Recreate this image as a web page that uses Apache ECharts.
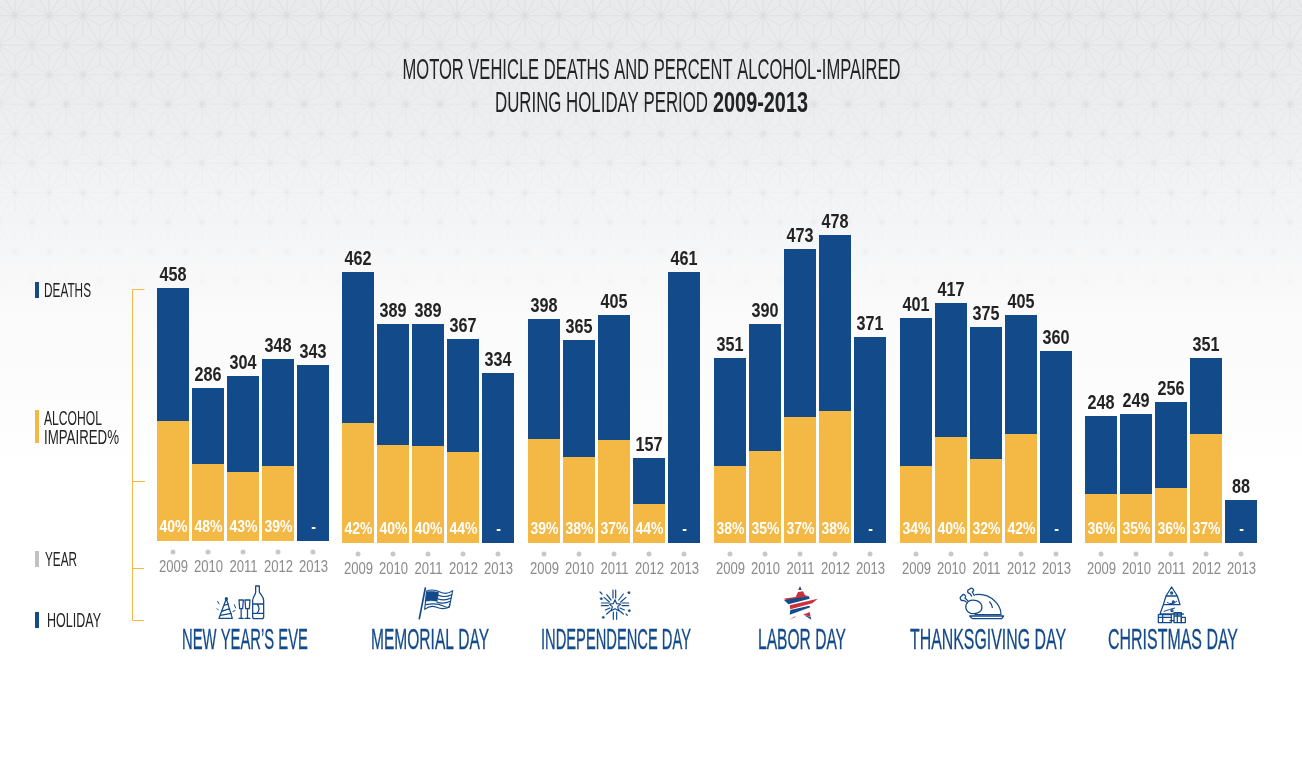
<!DOCTYPE html>
<html><head><meta charset="utf-8">
<style>
html,body{margin:0;padding:0;width:1302px;height:772px;overflow:hidden}
body{background-color:#fff;position:relative}
#bg{position:absolute;inset:0}
#c{position:absolute;left:0;top:0;width:1302px;height:772px}
</style>
<script src="https://cdn.jsdelivr.net/npm/echarts@6/dist/echarts.min.js"></script>
</head><body>
<canvas id="bg" width="1302" height="772"></canvas>
<div id="c"></div>
<script>
// ---- data ----
const years = ['2009','2010','2011','2012','2013'];
const holidays = ["NEW YEAR’S EVE",'MEMORIAL DAY','INDEPENDENCE DAY','LABOR DAY','THANKSGIVING DAY','CHRISTMAS DAY'];

// printed death counts
const deathsNewYear      = [458,286,304,348,343];
const deathsMemorial     = [462,389,389,367,334];
const deathsIndependence = [398,365,405,157,461];
const deathsLabor        = [351,390,473,478,371];
const deathsThanksgiving = [401,417,375,405,360];
const deathsChristmas    = [248,249,256,351,88];

// printed alcohol-impaired labels
const pctNewYear      = ['40%','48%','43%','39%','-'];
const pctMemorial     = ['42%','40%','40%','44%','-'];
const pctIndependence = ['39%','38%','37%','44%','-'];
const pctLabor        = ['38%','35%','37%','38%','-'];
const pctThanksgiving = ['34%','40%','32%','42%','-'];
const pctChristmas    = ['36%','35%','36%','37%','-'];

// The source bars are not linear in the printed numbers, so the drawn bar
// lengths are read separately, in units of the shared value axis.
const barNewYear      = [253,153,165,182,176];
const barMemorial     = [271,219,219,204,170];
const barIndependence = [224,203,228,85,271];
const barLabor        = [185,219,294,308,206];
const barThanksgiving = [225,240,216,228,192];
const barChristmas    = [127,129,141,185,43];

const impNewYear      = [120,77,69,75,0];
const impMemorial     = [120,98,97,91,0];
const impIndependence = [104,86,103,39,0];
const impLabor        = [77,92,126,132,0];
const impThanksgiving = [77,106,84,109,0];
const impChristmas    = [49,49,55,109,0];

const deaths = [deathsNewYear,deathsMemorial,deathsIndependence,deathsLabor,deathsThanksgiving,deathsChristmas];
const pcts   = [pctNewYear,pctMemorial,pctIndependence,pctLabor,pctThanksgiving,pctChristmas];
const bars   = [barNewYear,barMemorial,barIndependence,barLabor,barThanksgiving,barChristmas];
const imps   = [impNewYear,impMemorial,impIndependence,impLabor,impThanksgiving,impChristmas];

// ---- layout / style ----
const BLUE='#134a8a', GOLD='#f4b845', DARK='#232323', GREY='#8b8b8b', DOT='#c8c8c8', RED='#c9303a';
const FONT='"Liberation Sans",sans-serif';
const gridLefts=[155.5,340.5,526.5,712.5,898.5,1083.5];
const baselines=[541,543,543,543,543,543];
const nameCx=[245,430,616,802,988,1173];
const nameW=[126,118,150,88,156,130];
const AXMAX=343;

// background: soft gradient and star lattice, fading to white
(function(){
  const cv=document.getElementById('bg'),x=cv.getContext('2d');
  const g=x.createLinearGradient(0,0,0,772);
  g.addColorStop(0,'#e9eaec');g.addColorStop(.13,'#ecedef');g.addColorStop(.26,'#f3f4f5');
  g.addColorStop(.4,'#fafafb');g.addColorStop(.62,'#ffffff');g.addColorStop(1,'#ffffff');
  x.fillStyle=g;x.fillRect(0,0,1302,772);
  const a=34,h=29.5,ox=15,oy=15.7;
  const fade=y=>{const t=Math.max(0,1-y/300);return t*t*0.4+t*0.6;};
  for(let r=-1;r<16;r++){for(let c=-1;c<41;c++){
    const px=ox+c*a+(r%2?a/2:0), py=oy+r*h;
    const al=fade(py);if(al<=0)continue;
    x.strokeStyle='rgba(205,207,211,'+(0.38*al)+')';x.lineWidth=1;
    x.beginPath();
    [[a,0],[a/2,h],[-a/2,h]].forEach(d=>{x.moveTo(px,py);x.lineTo(px+d[0],py+d[1]);});
    [[a/2,h/3],[a/2,-h/3],[0,2*h/3],[0,-2*h/3],[-a/2,h/3],[-a/2,-h/3]].forEach(d=>{x.moveTo(px,py);x.lineTo(px+d[0],py+d[1]);});
    x.stroke();
    x.beginPath();x.arc(px,py,3.8,0,7);x.fillStyle='rgba(222,224,227,'+(0.55*al)+')';x.fill();
  }}
})();

// text fitted to a measured width with horizontal scale
const mc=document.createElement('canvas').getContext('2d');
function txt(s,cx,cy,w,size,color,weight,extra){
  mc.font=(weight||'normal')+' '+size+'px '+FONT;
  const sx=w/mc.measureText(s).width;
  return {type:'text',x:cx,y:cy,scaleX:sx,silent:true,z:20,
    style:Object.assign({text:s,fill:color,font:(weight||'normal')+' '+size+'px '+FONT,align:'center',verticalAlign:'middle'},extra||{})};
}
function rect(x,y,w,h,fill){return {type:'rect',silent:true,z:10,shape:{x,y,width:w,height:h},style:{fill}};}

const graphics=[];
// title
graphics.push(txt('MOTOR VEHICLE DEATHS AND PERCENT ALCOHOL-IMPAIRED',651.5,71,498,29,DARK));
graphics.push(txt('DURING HOLIDAY PERIOD',601.5,104,213,29,DARK));
graphics.push(txt('2009-2013',760.5,104,95,29,DARK,'bold'));
// left key
graphics.push(rect(35,282,4,16,BLUE),rect(35,410,4,33,GOLD),rect(35,551,4,16,'#c2c2c2'),rect(35,612,4,16,BLUE));
graphics.push(txt('DEATHS',67.5,291,47,20,DARK));
graphics.push(txt('ALCOHOL',73,419,58,20,DARK));
graphics.push(txt('IMPAIRED%',81.5,438,75,20,DARK));
graphics.push(txt('YEAR',61,560,32,20,DARK));
graphics.push(txt('HOLIDAY',74,621,54,20,DARK));
// holiday names
holidays.forEach((n,i)=>graphics.push(txt(n,nameCx[i],641,nameW[i],29,BLUE,'normal',{stroke:BLUE,lineWidth:0.3})));

// icons and bracket: outline shapes registered with the library
let shapeN=0;
function pathEl(d,opt){
  const name='rsPath'+(shapeN++);
  echarts.graphic.registerShape(name,echarts.graphic.extendPath(d,{}));
  return Object.assign({type:name,silent:true,z:10},opt);
}
graphics.push(pathEl('M144.5 289.5H132.5V620.5H144M132.5 481.5H145M132.5 568.5H144',{style:{fill:'none',stroke:GOLD,lineWidth:1}}));
function icon(x,y,parts){
  parts.forEach(p=>graphics.push(pathEl(p.d,{x,y,scaleX:1/3,scaleY:1/3,
    style:{fill:p.fill||'none',stroke:p.stroke===undefined?BLUE:p.stroke,lineWidth:p.lw||3.8,lineJoin:'round',lineCap:'round'}})));
}
function circ(cx,cy,r){return `M${cx-r} ${cy}a${r} ${r} 0 1 0 ${2*r} 0a${r} ${r} 0 1 0 ${-2*r} 0Z`;}
// party hat, flutes, bottle
icon(205,578,[
 {d:'M42 121L64 62L82 121ZM50 100L74 92M46 112L79 106M57 82L70 78'},
 {d:circ(64,62,3)},
 {d:'M38 70L42 78M36 92L40 96M88 80L92 90M84 100L90 98',lw:3},
 {d:'M102 66H115L113 92H104ZM108.500 92V120M102 121H115'},
 {d:'M120 66H135L133 92H122ZM127.500 92V120M120 121H135'},
 {d:'M152 24H163V42C168 52 176 56 176 68V116Q176 122 170 122H148Q143 122 143 116V68C143 56 152 52 152 42ZM143 78H176M143 106H176M156 78Q168 92 156 106'}
]);
// flag
icon(410,582,[
 {d:'M46 18L28 110',lw:5},
 {d:'M50 27Q70 20 90 30T128 26L118 76Q98 84 80 76T44 82Z',lw:3.4},
 {d:'M84 40Q105 48 125 38M82 50Q105 58 123 48M80 60Q100 68 121 58M48 68Q80 62 100 72T119 66',lw:3.4},
 {d:'M51 29Q65 25 86 31L82 58Q62 54 46 58Z',fill:BLUE,lw:1}
]);
// fireworks
icon(590,582,[
 {d:'M75 53L80 65L92 66L83 74L86 86L75 80L64 86L67 74L58 66L70 65Z',lw:3.4},
 {d:'M69 24V48M77 24V48M50 38L63 54M42 46L58 60M100 36L86 54M108 46L92 60M34 63H55M34 71H55M96 63H116M96 71H116M46 84L60 78M50 96L64 84M103 84L90 78M100 96L86 84M70 90V112M80 90V112M30 30L36 36M112 100L108 96',lw:3.6},
 {d:circ(34,50,3.5)+circ(117,32,3.5)+circ(118,86,3.5)+circ(40,106,3.5),fill:BLUE,lw:1}
]);
// star
icon(775,582,[
 {d:'M75 12L70 24L80 24Z',fill:BLUE,stroke:null},
 {d:'M25 50L62 45L69 30L84 28L90 40L102 43L40 56Z',fill:RED,stroke:null},
 {d:'M27 54L102 43L104 50L40 67Z',fill:BLUE,stroke:null},
 {d:'M128 50L112 64L46 82L44 70Z',fill:RED,stroke:null},
 {d:'M46 84L103 71L106 76L44 98Z',fill:BLUE,stroke:null},
 {d:'M84 98L104 90L107 104Z',fill:RED,stroke:null},
 {d:'M88 100L107 105L109 113Z',fill:BLUE,stroke:null},
 {d:'M41 114L62 102L60 106Z',fill:RED,stroke:null}
]);
// turkey
icon(955,582,[
 {d:'M62 38C85 34 110 44 124 62C134 74 138 86 138 98H60'},
 {d:'M40 58C28 70 30 88 48 94C68 98 84 88 80 70C76 56 55 50 40 58Z'},
 {d:'M38 56L30 48A6 6 0 1 0 20 42A6 6 0 1 0 26 55L34 60M58 40L52 30A6 6 0 1 0 44 22A6 6 0 1 0 44 34L50 42'},
 {d:'M104 60Q110 66 112 76M44 102H146L140 110H52Z'}
]);
// tree with presents
icon(1150,582,[
 {d:'M65 15L82 42H48ZM48 42L40 68H90L82 42M40 68L30 96H100'},
 {d:circ(65,33,3)+circ(70,60,3)+circ(66,86,3)},
 {d:'M52 62Q66 70 80 58M42 88Q60 82 74 78',lw:3},
 {d:'M25 98H64V122H25ZM25 106H64M38 98V122'},
 {d:'M72 92H94V122H72ZM82 92V122M72 102H94'},
 {d:'M94 106H106V122H94ZM60 116H72'}
]);

// ---- charts ----
function condensed(size,weight,color,sx){return {scaleX:sx,silent:true,
  style:{fill:color,font:weight+' '+size+'px '+FONT,align:'center',verticalAlign:'middle'}};}
function textMark(text,x,y,c){return {type:'text',x,y,scaleX:c.scaleX,silent:true,
  style:Object.assign({text},c.style)};}
const deathFont=condensed(19.5,'bold',DARK,0.83);
const pctFont=condensed(16.5,'bold','#fff',0.85);
const yearFont=condensed(17,'normal',GREY,0.77);

const grids=[],xAxes=[],yAxes=[],series=[];
holidays.forEach((n,i)=>{
  grids.push({left:gridLefts[i],width:175,top:baselines[i]-AXMAX,height:AXMAX,containLabel:false});
  xAxes.push({type:'category',gridIndex:i,data:years,axisLine:{show:false},axisTick:{show:false},axisLabel:{show:false}});
  yAxes.push({type:'value',gridIndex:i,min:0,max:AXMAX,show:false,splitLine:{show:false}});
  series.push({name:'Deaths',type:'bar',xAxisIndex:i,yAxisIndex:i,data:bars[i],barWidth:32,barGap:'-100%',
    itemStyle:{color:BLUE}});
  series.push({name:'Alcohol impaired',type:'bar',xAxisIndex:i,yAxisIndex:i,data:imps[i],barWidth:32,barGap:'-100%',
    itemStyle:{color:GOLD}});
  // printed numbers, year labels and dots, placed through this grid's axes
  series.push({name:'Labels',type:'custom',xAxisIndex:i,yAxisIndex:i,z:5,silent:true,clip:false,
    data:years.map((y,k)=>[k,bars[i][k]]),encode:{x:0,y:1},
    renderItem:(params,api)=>{
      const k=params.dataIndex, top=api.coord([k,api.value(1)]), base=api.coord([k,0]);
      return {type:'group',children:[
        textMark(String(deaths[i][k]),top[0],top[1]-12.5,deathFont),
        textMark(pcts[i][k],base[0]+0.5,base[1]-13.5,pctFont),
        {type:'circle',shape:{cx:base[0],cy:base[1]+11,r:2.5},style:{fill:DOT}},
        textMark(years[k],base[0]+0.5,base[1]+26,yearFont)
      ]};
    }});
});

const chart=echarts.init(document.getElementById('c'),null,{renderer:'canvas',width:1302,height:772});
chart.setOption({backgroundColor:'transparent',animation:false,tooltip:{show:false},
  grid:grids,xAxis:xAxes,yAxis:yAxes,series:series,graphic:{elements:graphics}});
</script>
</body></html>
